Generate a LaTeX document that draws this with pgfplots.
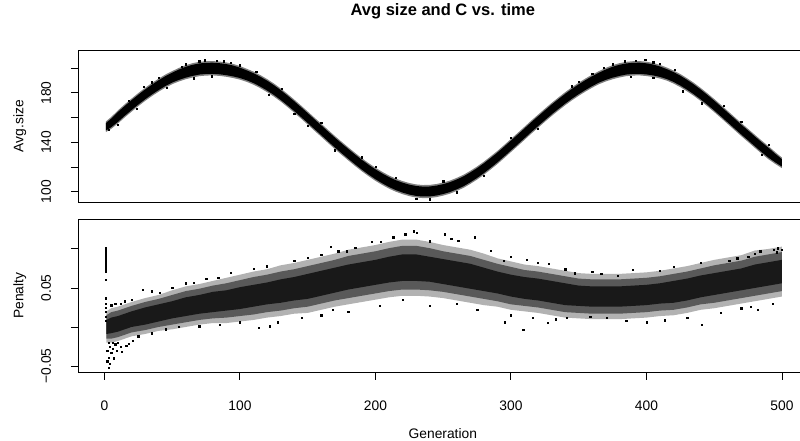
\documentclass[border=0pt]{standalone}
\usepackage{fontspec}
\setmainfont{Liberation Sans}
\usepackage{pgfplots}
\usepackage{pgfplotstable}
\pgfplotsset{compat=1.18}
\usepgfplotslibrary{fillbetween}

\pgfplotstableread{
g olo lo hi ohi
1 148.2 149.5 155.5 156.8
5 150.9 152.2 159.2 160.5
10 155.3 156.6 164.6 165.9
15 160.2 161.5 169.5 170.8
20 164.8 166.1 174.1 175.4
25 169.3 170.6 178.6 179.9
30 173.5 174.8 182.8 184.1
35 177.4 178.7 186.7 188.0
40 181.0 182.3 190.3 191.6
45 184.3 185.6 193.6 194.9
50 187.1 188.4 196.4 197.7
55 189.3 190.6 199.0 200.3
60 191.1 192.4 201.2 202.5
65 192.5 193.8 202.8 204.1
70 193.6 194.9 203.9 205.2
75 194.1 195.4 204.4 205.7
80 194.2 195.5 204.5 205.8
85 193.8 195.1 204.1 205.4
90 193.1 194.4 203.4 204.7
95 192.1 193.4 202.2 203.5
100 190.8 192.1 200.5 201.8
105 189.0 190.3 198.3 199.6
110 186.7 188.0 196.0 197.3
115 183.9 185.2 193.2 194.5
120 180.7 182.0 190.0 191.3
125 177.1 178.4 186.4 187.7
130 173.1 174.4 182.4 183.7
135 168.7 170.0 178.0 179.3
140 164.1 165.4 173.4 174.7
145 159.3 160.6 168.6 169.9
150 154.4 155.7 163.7 165.0
155 149.4 150.7 158.7 160.0
160 144.5 145.8 153.8 155.1
165 139.5 140.8 148.8 150.1
170 134.6 135.9 143.9 145.2
175 129.9 131.2 139.2 140.5
180 125.3 126.6 134.6 135.9
185 120.8 122.1 130.1 131.4
190 116.5 117.8 125.8 127.1
195 112.5 113.8 121.8 123.1
200 108.8 110.1 118.1 119.4
205 105.5 106.8 114.8 116.1
210 102.5 103.8 111.8 113.1
215 100.0 101.3 109.3 110.6
220 98.0 99.3 107.3 108.6
225 96.4 97.7 105.7 107.0
230 95.3 96.6 104.6 105.9
235 94.8 96.1 104.1 105.4
240 94.9 96.2 104.2 105.5
245 95.6 96.9 104.9 106.2
250 96.8 98.1 106.1 107.4
255 98.4 99.7 107.7 109.0
260 100.6 101.9 109.9 111.2
265 103.1 104.4 112.4 113.7
270 106.3 107.6 115.6 116.9
275 109.8 111.1 119.1 120.4
280 113.7 115.0 123.0 124.3
285 118.0 119.3 127.3 128.6
290 122.4 123.7 131.7 133.0
295 127.2 128.5 136.5 137.8
300 132.1 133.4 141.4 142.7
305 137.0 138.3 146.3 147.6
310 142.0 143.3 151.3 152.6
315 147.0 148.3 156.3 157.6
320 151.8 153.1 161.1 162.4
325 156.6 157.9 165.9 167.2
330 161.3 162.6 170.6 171.9
335 165.7 167.0 175.0 176.3
340 170.0 171.3 179.3 180.6
345 174.0 175.3 183.3 184.6
350 177.7 179.0 187.0 188.3
355 181.1 182.4 190.4 191.7
360 184.3 185.6 193.6 194.9
365 187.1 188.4 196.4 197.7
370 189.3 190.6 199.0 200.3
375 191.1 192.4 201.2 202.5
380 192.5 193.8 202.8 204.1
385 193.6 194.9 203.9 205.2
390 194.1 195.4 204.4 205.7
395 194.2 195.5 204.5 205.8
400 193.7 195.0 204.0 205.3
405 192.9 194.2 203.0 204.3
410 191.7 193.0 201.4 202.7
415 190.0 191.3 199.3 200.6
420 187.6 188.9 196.9 198.2
425 184.7 186.0 194.0 195.3
430 181.3 182.6 190.6 191.9
435 177.6 178.9 186.9 188.2
440 173.5 174.8 182.8 184.1
445 169.1 170.4 178.4 179.7
450 164.5 165.8 173.8 175.1
455 159.7 161.0 169.0 170.3
460 154.8 156.1 164.1 165.4
465 149.9 151.2 159.2 160.5
470 145.0 146.3 154.3 155.6
475 140.3 141.6 149.6 150.9
480 135.5 136.8 144.8 146.1
485 130.8 132.1 140.1 141.4
490 126.3 127.6 135.6 136.9
495 122.5 123.8 130.8 132.1
500 119.0 120.3 126.3 127.6
}\topband

\pgfplotstableread{
g olo ohi lo hi ilo ihi
1.5 -0.020 0.020 -0.015 0.015 -0.009 0.009
5 -0.020 0.024 -0.015 0.019 -0.008 0.012
10 -0.018 0.026 -0.013 0.021 -0.006 0.014
20 -0.012 0.032 -0.007 0.027 0.000 0.020
30 -0.009 0.037 -0.004 0.032 0.003 0.025
40 -0.005 0.041 0.000 0.036 0.007 0.029
50 -0.003 0.047 0.003 0.041 0.011 0.033
60 0.000 0.052 0.006 0.046 0.014 0.038
70 0.003 0.055 0.009 0.049 0.017 0.041
80 0.005 0.059 0.011 0.053 0.019 0.045
90 0.005 0.063 0.012 0.056 0.021 0.047
100 0.007 0.067 0.014 0.060 0.023 0.051
110 0.009 0.071 0.016 0.064 0.026 0.054
120 0.012 0.074 0.019 0.067 0.029 0.057
130 0.014 0.079 0.021 0.071 0.031 0.061
140 0.017 0.082 0.024 0.074 0.034 0.064
150 0.018 0.086 0.026 0.078 0.036 0.068
160 0.022 0.090 0.030 0.082 0.040 0.072
170 0.026 0.094 0.034 0.086 0.044 0.076
180 0.029 0.099 0.037 0.091 0.048 0.080
190 0.032 0.102 0.040 0.094 0.051 0.083
200 0.035 0.105 0.043 0.097 0.054 0.086
210 0.038 0.109 0.046 0.101 0.057 0.090
220 0.040 0.112 0.048 0.104 0.059 0.093
230 0.040 0.112 0.048 0.104 0.059 0.093
240 0.039 0.109 0.047 0.101 0.058 0.090
250 0.037 0.105 0.045 0.097 0.055 0.087
260 0.034 0.102 0.042 0.094 0.052 0.084
270 0.031 0.099 0.039 0.091 0.049 0.081
280 0.028 0.094 0.036 0.086 0.046 0.076
290 0.026 0.088 0.033 0.081 0.043 0.071
300 0.022 0.084 0.029 0.077 0.039 0.067
310 0.020 0.080 0.027 0.073 0.036 0.064
320 0.018 0.078 0.025 0.071 0.034 0.062
330 0.015 0.075 0.022 0.068 0.031 0.059
340 0.012 0.072 0.019 0.065 0.028 0.056
350 0.011 0.069 0.018 0.062 0.027 0.053
360 0.010 0.068 0.017 0.061 0.026 0.052
370 0.010 0.068 0.017 0.061 0.026 0.052
380 0.010 0.068 0.017 0.061 0.026 0.052
390 0.011 0.069 0.018 0.062 0.027 0.053
400 0.012 0.070 0.019 0.063 0.028 0.054
410 0.014 0.072 0.021 0.065 0.030 0.056
420 0.015 0.075 0.022 0.068 0.031 0.059
430 0.018 0.078 0.025 0.071 0.034 0.062
440 0.022 0.082 0.029 0.075 0.038 0.066
450 0.024 0.086 0.031 0.079 0.041 0.069
460 0.027 0.089 0.034 0.082 0.044 0.072
470 0.030 0.092 0.037 0.085 0.047 0.075
480 0.033 0.098 0.040 0.090 0.050 0.080
490 0.036 0.100 0.043 0.093 0.053 0.083
500 0.039 0.103 0.046 0.096 0.056 0.086
}\botband

\pgfplotsset{
  rstyle/.style={
    scale only axis,
    width=730.6pt,
    xmin=-19.2, xmax=519.96,
    axis line style={line width=0.9pt},
    every tick/.style={line width=0.9pt, black},
    tick align=outside,
    major tick length=7.5pt,
    tick pos=left,
    tick label style={font=\fontsize{13.8}{16}\selectfont},
    label style={font=\fontsize{13.8}{16}\selectfont},
    yticklabel style={xshift=-20pt, rotate=90, anchor=base, inner sep=0pt},
    xticklabel style={anchor=base, inner sep=0pt, yshift=-31pt},
    clip=true,
  },
  dots/.style={only marks, mark=square*, mark size=0.65pt,
    mark options={fill=black, draw=none}},
}

\begin{document}
\begin{tikzpicture}
% ---------- top panel ----------
\begin{axis}[rstyle,
  at={(78.4pt,238.7pt)}, anchor=south west,
  height=152.3pt,
  ymin=91.4, ymax=214.8,
  xtick=\empty,
  ytick={100,120,140,160,180,200},
  yticklabels={100,,140,,180,},
  ylabel={Avg.size},
  ylabel style={at={(axis description cs:-0.0754,0.5)}, rotate=0, anchor=base},
  title={Avg size and C vs. time},
  title style={at={(axis description cs:0.4988,1.1858)}, anchor=base,
    font=\fontsize{16.5}{19}\selectfont\bfseries},
]
\addplot[name path=TOU, draw=none, forget plot] table[x=g,y=ohi]{\topband};
\addplot[name path=TOL, draw=none, forget plot] table[x=g,y=olo]{\topband};
\addplot[black!50, forget plot] fill between[of=TOU and TOL];
\addplot[name path=U, draw=none, forget plot] table[x=g,y=hi]{\topband};
\addplot[name path=L, draw=none, forget plot] table[x=g,y=lo]{\topband};
\addplot[black, forget plot] fill between[of=U and L];
\addplot[dots] coordinates {
(74,206.5) (57,201.0) (93,204.5) (60,203.3) (40,192.5) (29,185.0) (24,167.5)
(66,192.0) (79,193.5) (46,184.0) (121,178.5) (131,183.5) (88,205.8) (70,205.8)
(83,206.3) (100,202.5) (112,197.0) (18,173.8) (10,154.5) (35,188.8) (140,163.3)
(160,155.8) (170,133.5) (200,120.5) (230,94.3) (240,93.8) (215,111.5) (250,108.5)
(280,112.8) (300,143.8) (320,150.8) (345,185.5) (368.5,200.5) (384,205.8)
(392,206.3) (399,206.8) (410,203.5) (421,199.0) (441,171.8) (427,181.5)
(457,169.5) (388.6,193.2) (405,192.3) (360,195.8) (470,156.5) (485,130.0)
(490,138.0) (260,99.7) (190,128.0) (150,153.2) (350,189.3) (375,203.2)
(405,205.0) (3,150.0) (6,158.8)
};
\end{axis}
% ---------- bottom panel ----------
\begin{axis}[rstyle,
  at={(78.4pt,68.7pt)}, anchor=south west,
  height=153pt,
  ymin=-0.0581, ymax=0.138,
  xtick={0,100,200,300,400,500},
  xticklabels={0,100,200,300,400,500},
  ytick={-0.05,0,0.05,0.1},
  yticklabels={−0.05,,0.05,},
  ylabel={Penalty},
  ylabel style={at={(axis description cs:-0.0754,0.5)}, rotate=0, anchor=base},
  xlabel={Generation},
  xlabel style={at={(axis description cs:0.4988,-0.4314)}, anchor=base},
]
\addplot[name path=OU, draw=none, forget plot] table[x=g,y=ohi]{\botband};
\addplot[name path=OL, draw=none, forget plot] table[x=g,y=olo]{\botband};
\addplot[black!30, forget plot] fill between[of=OU and OL];
\addplot[name path=BU, draw=none, forget plot] table[x=g,y=hi]{\botband};
\addplot[name path=BL, draw=none, forget plot] table[x=g,y=lo]{\botband};
\addplot[black!65, forget plot] fill between[of=BU and BL];
\addplot[name path=IU, draw=none, forget plot] table[x=g,y=ihi]{\botband};
\addplot[name path=IL, draw=none, forget plot] table[x=g,y=ilo]{\botband};
\addplot[black!90, forget plot] fill between[of=IU and IL];
\addplot[dots] coordinates {
(1,0.101) (1,0.099) (1,0.097) (1,0.095) (1,0.093) (1,0.091) (1,0.089)
(1,0.087) (1,0.085) (1,0.083) (1,0.081) (1,0.079) (1,0.077) (1,0.075)
(1,0.073) (1,0.071) (1,0.061) (1,0.037) (1,0.030) (1,0.025) (1,0.020)
(1,0.013) (1,0.008)
(2,-0.044) (3,-0.052) (3,-0.039) (2,-0.030) (4,-0.025) (5,-0.033) (6,-0.028)
(7,-0.040) (8,-0.022) (9,-0.030) (12,-0.025) (13,-0.032) (16,-0.024)
(18,-0.021) (21,-0.018) (4,-0.047) (3,-0.020) (6,-0.020) (10,-0.020)
(5,0.028) (8,0.030) (12,0.030) (15,0.033) (20,0.035)
(28,0.048) (35,0.046) (41,0.044) (50,0.050) (60,0.056) (66,0.057) (84,0.063)
(93,0.070) (75,0.062) (110,0.075) (120,0.078)
(25,-0.012) (35,-0.008) (45,-0.003) (55,0.000) (70,0.001) (85,0.003)
(100,0.006) (113.6,-0.001) (122,0.001) (128,0.006) (145.7,0.012)
(168.7,0.022) (160,0.015) (180,0.020) (203,0.027) (220,0.035) (240,0.027)
(260,0.030) (275,0.022) (295.6,0.006) (309,-0.0035) (316,0.0115)
(327,0.0055) (333,0.010) (341,0.0115) (358.4,0.013) (370.6,0.0115)
(400,0.006) (413.7,0.0085) (441,0.003) (430,0.012) (455,0.018) (470,0.024)
(477,0.026) (482,0.022) (493,0.030) (385,0.008) (300,0.015)
(197,0.109) (204,0.109) (213,0.115) (222,0.119) (228,0.1226) (230.5,0.121)
(251,0.119) (256,0.113) (261,0.111) (273,0.115) (167,0.103) (172.6,0.097)
(179,0.097) (311.6,0.086) (328,0.081) (294.5,0.0846) (140,0.085)
(150,0.089) (160,0.093) (185,0.102) (240,0.110) (285,0.098) (300,0.090)
(320,0.082) (340,0.074) (347,0.069) (366.5,0.068) (379,0.066) (390,0.0735)
(360,0.071) (410,0.072) (420,0.077) (440,0.0825) (461,0.085) (467,0.088)
(484,0.097) (494,0.099) (496,0.096) (497,0.101) (500,0.099) (480,0.094)
(475,0.090)
};
\end{axis}
\pgfresetboundingbox
\path[use as bounding box] (0pt,0pt) rectangle (800pt,441pt);
\end{tikzpicture}
\end{document}
